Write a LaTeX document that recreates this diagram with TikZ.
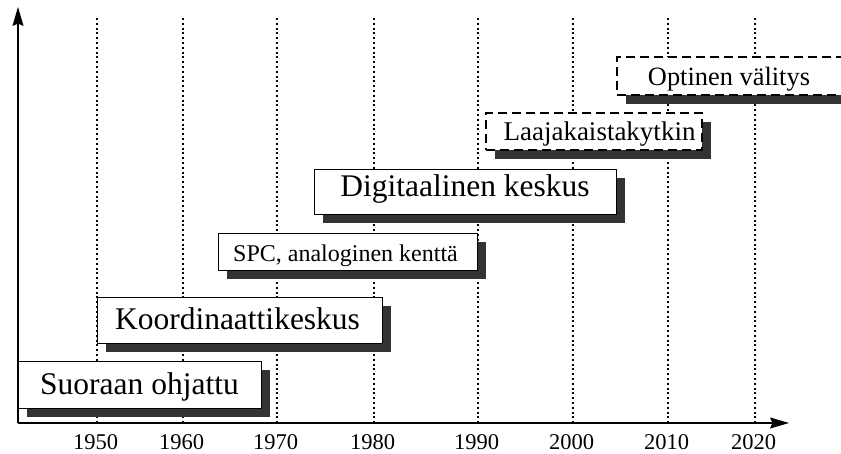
\documentclass[tikz,border=0pt]{standalone}
\usepackage{fontspec}
\setmainfont{Liberation Serif}
\usetikzlibrary{shadows,arrows.meta}

\begin{document}
\begin{tikzpicture}[x=1pt,y=-1pt,
  axis/.style={line width=1.3pt,-{Stealth[length=19pt,width=11pt,inset=2.5pt]}},
  gridline/.style={line width=2pt,dash pattern=on 2pt off 2.8pt},
  era/.style={draw,line width=0.9pt,fill=white,inner sep=0pt,
    drop shadow={shadow xshift=8.5pt,shadow yshift=-8.5pt,opacity=1,fill=black!80}},
  future/.style={era,line width=1.3pt,dash pattern=on 9pt off 5pt},
  bigtxt/.style={anchor=base,inner sep=0pt,font=\fontsize{31.5}{36}\selectfont},
  midtxt/.style={anchor=base,inner sep=0pt,font=\fontsize{27}{32}\selectfont},
  smalltxt/.style={anchor=base,inner sep=0pt,font=\fontsize{24}{28}\selectfont},
  yeartxt/.style={anchor=base,inner sep=0pt,text depth=0pt,font=\fontsize{22.5}{24}\selectfont}]

\useasboundingbox (0,0) rectangle (841,453);

% decade grid lines with their year labels
\foreach \xx/\yr in {97/1950,183/1960,277/1970,374/1980,478/1990,573/2000,668/2010,755/2020}{
  \coordinate (g\yr top) at (\xx,18);
  \coordinate (g\yr bot) at (\xx,423);
  \draw[gridline] (g\yr top) -- (g\yr bot);
  \node[yeartxt] (y\yr) at (\xx-1.5,449) {\yr};
}

% time axes
\coordinate (origin) at (18,423);
\coordinate (xend) at (789,423);
\coordinate (yend) at (18,7);
\draw[axis] (origin) -- (xend);
\draw[axis] (origin) -- (yend);

% switching generations
\node[era,minimum width=243pt,minimum height=47pt] (b1) at (139.5,384.5) {};
\node[bigtxt] (t1) at (139.5,394) {Suoraan ohjattu};

\node[era,minimum width=285pt,minimum height=46pt] (b2) at (239.5,320) {};
\node[bigtxt] (t2) at (237.5,329.3) {Koordinaattikeskus};

\node[era,minimum width=259pt,minimum height=37pt] (b3) at (347.5,251.5) {};
\node[smalltxt] (t3) at (345.5,261.7) {SPC, analoginen kenttä};

\node[era,minimum width=302pt,minimum height=45pt] (b4) at (465,191.5) {};
\node[bigtxt] (t4) at (465,196.7) {Digitaalinen keskus};

\node[future,minimum width=216pt,minimum height=37pt] (b5) at (594,131.5) {};
\node[midtxt] (t5) at (599.5,140) {Laajakaistakytkin};

\node[future,minimum width=228pt,minimum height=38pt] (b6) at (731,76) {};
\node[midtxt,font=\fontsize{26.4}{31}\selectfont] (t6) at (729,85) {Optinen välitys};

\end{tikzpicture}
\end{document}
